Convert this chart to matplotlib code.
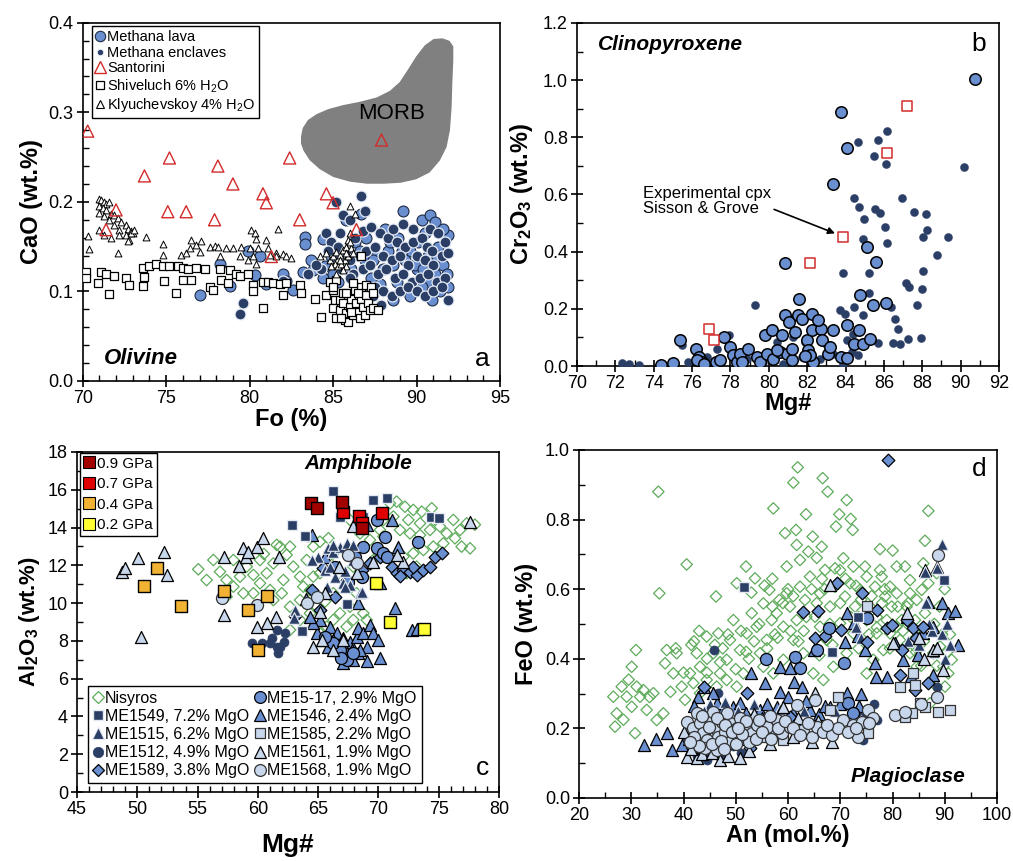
import matplotlib

matplotlib.use("Agg")

import matplotlib.pyplot as plt
from matplotlib.lines import Line2D
from matplotlib.patches import Polygon
from matplotlib.ticker import MultipleLocator

plt.rcParams["font.family"] = ["Liberation Sans", "DejaVu Sans"]
plt.rcParams["mathtext.fontset"] = "custom"
plt.rcParams["mathtext.rm"] = "Liberation Sans"
plt.rcParams["mathtext.it"] = "Liberation Sans:italic"
plt.rcParams["mathtext.bf"] = "Liberation Sans:bold"

LAVA = "#6A8FD0"
NAVY = "#2B3F66"
LIGHT = "#C8D7EC"
GREEN = "#5EAB5B"
RED_OPEN = "#D32B2B"
GP09 = "#A30000"
GP07 = "#E00000"
GP04 = "#F2B233"
GP02 = "#FFFF33"

# ---------------- (a) olivine: Fo (%) vs CaO (wt.%) ----------------
OL_LAVA = [
    (77.0, 0.096), (78.2, 0.131), (78.8, 0.106), (79.9, 0.145), (80.6, 0.140), (82.0, 0.120),
    (82.2, 0.112), (82.6, 0.102), (83.3, 0.161), (83.3, 0.153), (83.2, 0.122), (83.7, 0.135),
    (83.8, 0.124), (84.4, 0.158), (84.5, 0.128), (84.4, 0.115), (85.8, 0.180), (86.7, 0.187),
    (87.0, 0.160), (88.1, 0.170), (89.2, 0.190), (90.3, 0.180), (90.8, 0.185), (91.1, 0.178),
    (91.9, 0.163), (86.3, 0.155), (86.9, 0.135), (87.6, 0.140), (88.3, 0.145), (88.9, 0.160),
    (89.6, 0.145), (90.1, 0.155), (90.5, 0.165), (91.3, 0.150), (91.6, 0.130), (87.3, 0.115),
    (88.0, 0.125), (88.6, 0.130), (89.3, 0.135), (90.0, 0.125), (90.6, 0.110), (91.1, 0.120),
    (91.8, 0.120), (87.0, 0.100), (88.8, 0.110), (89.6, 0.095), (90.3, 0.105), (91.4, 0.100),
    (86.6, 0.145), (85.6, 0.130), (85.0, 0.120), (84.9, 0.140), (89.9, 0.130), (90.7, 0.140),
    (91.6, 0.170), (88.4, 0.155), (80.3, 0.118), (81.0, 0.108), (85.3, 0.110), (86.1, 0.125),
    (87.8, 0.108), (89.1, 0.145), (90.4, 0.125), (91.2, 0.140), (91.9, 0.105), (87.4, 0.135),
    (88.6, 0.090), (90.9, 0.090),
]
OL_ENCL = [
    (85.2, 0.200), (86.7, 0.207), (85.6, 0.185), (86.0, 0.180), (86.9, 0.190), (84.6, 0.165),
    (84.9, 0.155), (85.3, 0.150), (85.8, 0.145), (86.3, 0.160), (86.8, 0.168), (87.3, 0.172),
    (87.8, 0.165), (88.3, 0.160), (88.8, 0.155), (89.3, 0.150), (89.8, 0.155), (90.3, 0.160),
    (90.8, 0.170), (91.3, 0.165), (91.7, 0.155), (86.5, 0.140), (87.0, 0.145), (87.5, 0.150),
    (88.0, 0.140), (88.5, 0.135), (89.0, 0.140), (89.5, 0.130), (90.0, 0.140), (90.5, 0.135),
    (91.0, 0.130), (91.5, 0.140), (91.9, 0.143), (86.2, 0.120), (86.8, 0.125), (87.2, 0.130),
    (87.7, 0.120), (88.2, 0.125), (88.7, 0.115), (89.2, 0.120), (89.7, 0.110), (90.2, 0.115),
    (90.7, 0.120), (91.2, 0.110), (91.7, 0.115), (87.5, 0.105), (88.0, 0.100), (88.5, 0.095),
    (89.0, 0.100), (89.5, 0.105), (90.0, 0.100), (90.5, 0.095), (91.0, 0.100), (91.5, 0.105),
    (91.9, 0.090), (86.0, 0.115), (85.5, 0.125), (84.3, 0.125), (84.0, 0.130), (83.5, 0.120),
    (87.9, 0.085), (86.5, 0.100), (79.4, 0.075), (79.6, 0.087), (82.0, 0.112), (89.8, 0.170),
    (90.6, 0.150), (88.6, 0.170), (85.4, 0.165), (86.0, 0.135), (84.7, 0.145), (87.4, 0.095),
    (90.9, 0.145), (89.2, 0.175),
]
OL_SANTORINI = [
    (70.3, 0.279), (71.4, 0.169), (72.0, 0.191), (73.7, 0.229), (75.2, 0.249), (75.1, 0.189),
    (76.2, 0.189), (78.1, 0.240), (77.9, 0.180), (79.0, 0.220), (80.8, 0.209), (81.0, 0.199),
    (82.4, 0.249), (83.0, 0.180), (84.6, 0.209), (85.0, 0.199), (86.4, 0.169), (87.9, 0.269),
    (81.3, 0.139),
]
OL_SHIVELUCH = [
    (70.2, 0.122), (70.2, 0.115), (70.9, 0.109), (71.1, 0.122), (71.4, 0.119), (71.6, 0.097),
    (71.9, 0.117), (72.6, 0.115), (72.8, 0.107), (73.6, 0.126), (73.7, 0.116), (73.6, 0.106),
    (74.0, 0.128), (74.4, 0.131), (74.8, 0.128), (74.9, 0.112), (75.2, 0.128), (75.6, 0.098),
    (75.7, 0.128), (76.0, 0.126), (76.0, 0.113), (76.3, 0.125), (76.5, 0.113), (76.8, 0.126),
    (77.3, 0.125), (77.6, 0.105), (77.8, 0.102), (78.2, 0.125), (78.3, 0.113), (78.7, 0.109),
    (78.8, 0.124), (79.2, 0.119), (79.4, 0.117), (79.9, 0.120), (80.2, 0.107), (80.2, 0.100),
    (80.8, 0.081), (80.8, 0.110), (81.1, 0.111), (81.4, 0.109), (81.8, 0.108), (82.0, 0.096),
    (82.2, 0.109), (83.0, 0.107), (83.1, 0.098), (83.9, 0.092), (84.3, 0.071),
    (84.6, 0.096), (84.8, 0.111), (85.0, 0.102), (85.1, 0.090), (85.0, 0.081), (85.2, 0.070),
    (85.4, 0.090), (85.4, 0.079), (85.6, 0.098), (85.6, 0.087), (85.7, 0.068), (85.8, 0.076),
    (85.9, 0.066), (86.0, 0.083), (86.1, 0.092), (86.2, 0.074), (86.3, 0.102), (86.4, 0.087),
    (86.5, 0.077), (86.6, 0.070), (86.7, 0.105), (86.7, 0.092), (86.8, 0.083), (86.9, 0.074),
    (87.0, 0.107), (87.0, 0.096), (87.1, 0.087), (87.2, 0.079), (87.3, 0.105), (87.4, 0.081),
    (87.7, 0.079), (86.2, 0.109), (85.8, 0.098), (85.2, 0.113), (86.5, 0.098), (86.1, 0.077),
    (85.5, 0.070), (86.7, 0.139), (85.0, 0.105), (87.4, 0.098),
]
OL_KLYUCHEVSKOY = [
    (71.0, 0.203), (71.1, 0.202), (71.3, 0.200), (71.4, 0.198), (71.6, 0.200), (71.0, 0.195),
    (71.2, 0.193), (71.4, 0.191), (71.7, 0.187), (71.9, 0.185), (72.1, 0.182), (72.3, 0.178),
    (72.6, 0.174), (72.7, 0.170), (72.9, 0.168), (73.0, 0.165), (71.0, 0.188), (71.3, 0.184),
    (71.6, 0.180), (71.9, 0.174), (72.2, 0.169), (72.6, 0.163), (72.8, 0.157), (71.0, 0.169),
    (71.3, 0.163), (71.7, 0.160), (72.2, 0.163), (70.3, 0.162), (70.4, 0.147), (72.1, 0.143),
    (73.8, 0.161), (72.7, 0.156), (72.9, 0.165), (73.1, 0.169),
    (74.8, 0.153), (74.8, 0.141), (75.9, 0.141), (76.2, 0.143), (76.5, 0.157), (76.8, 0.152),
    (77.1, 0.156), (77.0, 0.144), (76.4, 0.148), (77.6, 0.150), (77.9, 0.151), (78.1, 0.150),
    (78.2, 0.140), (78.6, 0.149), (79.0, 0.149), (79.4, 0.139), (79.5, 0.150), (80.0, 0.149),
    (80.1, 0.169), (80.3, 0.165), (80.4, 0.158), (80.5, 0.148), (80.2, 0.139), (80.4, 0.131),
    (81.0, 0.157), (81.1, 0.148), (81.7, 0.170), (81.6, 0.143), (82.0, 0.142), (82.2, 0.140),
    (82.5, 0.137), (81.2, 0.141), (81.6, 0.139), (79.9, 0.135),
    (84.2, 0.139), (84.6, 0.143), (84.8, 0.135), (85.0, 0.139), (85.2, 0.144), (85.4, 0.141),
    (85.6, 0.146), (85.8, 0.150), (85.9, 0.157), (86.0, 0.165), (86.0, 0.195), (86.3, 0.187),
    (85.1, 0.131), (85.3, 0.128), (85.5, 0.131), (85.7, 0.135), (85.9, 0.139), (84.9, 0.128),
    (85.4, 0.135), (85.8, 0.128), (86.1, 0.148), (86.2, 0.143), (85.6, 0.124), (85.2, 0.120),
    (86.0, 0.155), (85.8, 0.143),
]
MORB_X = [83.14, 83.24, 83.54, 84.04, 84.74, 85.64, 86.64, 87.64, 88.44, 89.04, 89.54, 90.04,
          90.54, 91.04, 91.54, 91.94, 92.14, 92.14, 92.08, 92.04, 91.94, 91.74, 91.34, 90.74,
          89.94, 89.04, 88.04, 87.04, 86.04, 85.04, 84.24, 83.64, 83.28, 83.14]
MORB_Y = [0.2727, 0.2820, 0.2906, 0.2969, 0.3025, 0.3070, 0.3107, 0.3155, 0.3230, 0.3330,
          0.3472, 0.3620, 0.3740, 0.3807, 0.3814, 0.3788, 0.3732, 0.3583, 0.3323, 0.3062,
          0.2802, 0.2616, 0.2467, 0.2337, 0.2262, 0.2225, 0.2214, 0.2214, 0.2236, 0.2288,
          0.2374, 0.2474, 0.2579, 0.2653]

# ---------------- (b) clinopyroxene: Mg# vs Cr2O3 (wt.%) ----------------
CPX_LAVA = [
    (90.75, 1.004), (83.75, 0.888), (84.1, 0.762), (83.33, 0.636), (80.84, 0.359), (85.1, 0.417),
    (85.57, 0.365), (81.59, 0.233), (84.75, 0.250), (85.45, 0.213), (86.1, 0.219), (75.37, 0.090),
    (76.19, 0.061), (76.38, 0.032), (76.5, 0.014), (76.24, 0.020), (76.63, 0.008), (77.25, 0.014),
    (77.45, 0.020), (77.68, 0.102), (77.98, 0.067), (78.15, 0.037), (78.32, 0.014), (78.5, 0.043),
    (78.58, 0.014), (78.93, 0.061), (79.37, 0.032), (79.54, 0.014), (79.8, 0.108), (79.89, 0.043),
    (80.15, 0.125), (80.24, 0.026), (80.58, 0.049), (80.67, 0.108), (80.84, 0.178), (80.93, 0.043),
    (81.07, 0.154), (81.19, 0.020), (81.36, 0.119), (81.5, 0.178), (81.71, 0.166), (81.19, 0.061),
    (81.97, 0.090), (82.06, 0.055), (82.23, 0.125), (82.23, 0.183), (82.32, 0.014), (82.15, 0.037),
    (82.72, 0.131), (82.75, 0.090), (83.1, 0.043), (83.19, 0.067), (83.33, 0.125), (83.75, 0.032),
    (84.06, 0.143), (84.43, 0.078), (84.7, 0.127), (84.9, 0.078), (85.3, 0.096), (84.1, 0.029),
    (82.58, 0.160), (74.38, 0.002), (75.02, 0.012), (81.9, 0.035), (80.4, 0.055),
]
CPX_ENCL = [
    (72.33, 0.012), (72.73, 0.006), (73.25, 0.005), (79.28, 0.215), (84.67, 0.785), (86.14, 0.823),
    (85.67, 0.789), (85.48, 0.733), (86.1, 0.707), (84.44, 0.587), (84.72, 0.557), (84.96, 0.516),
    (85.53, 0.549), (85.8, 0.536), (86.06, 0.487), (86.15, 0.431), (86.93, 0.587), (87.57, 0.538),
    (88.2, 0.532), (88.26, 0.476), (88.05, 0.452), (89.36, 0.450), (90.15, 0.695), (84.93, 0.445),
    (83.88, 0.327), (85.22, 0.327), (88.78, 0.388), (88.05, 0.333), (87.15, 0.291), (87.33, 0.277),
    (87.97, 0.271), (87.71, 0.213), (86.36, 0.207), (86.59, 0.166), (86.73, 0.131), (86.49, 0.082),
    (86.83, 0.076), (87.27, 0.093), (87.91, 0.099), (85.71, 0.082), (85.24, 0.254), (84.44, 0.207),
    (83.97, 0.183), (83.71, 0.197), (84.06, 0.090), (84.2, 0.148), (84.67, 0.037), (83.88, 0.008),
    (84.54, 0.078), (84.93, 0.178), (84.41, 0.113), (84.32, 0.049), (75.46, 0.072), (75.8, 0.014),
    (76.76, 0.032), (77.28, 0.061), (77.94, 0.108), (78.84, 0.026), (79.71, 0.014), (80.41, 0.084),
    (80.76, 0.008), (81.28, 0.102), (81.71, 0.032), (82.4, 0.014), (82.67, 0.026), (83.36, 0.043),
    (83.0, 0.078), (81.88, 0.084),
]
CPX_EXP = [(76.9, 0.131), (77.12, 0.090), (82.15, 0.361), (83.88, 0.450), (86.14, 0.744), (87.18, 0.911)]

# ---------------- (c) amphibole: Mg# vs Al2O3 (wt.%) ----------------
AM_NISYROS = [
    (55.06, 11.79), (55.75, 11.22), (56.86, 11.66), (57.41, 11.22), (57.97, 10.87), (58.52, 11.40),
    (59.07, 11.93), (59.63, 11.49), (60.18, 11.05), (60.73, 11.58), (61.29, 12.10), (61.84, 12.99),
    (62.39, 12.55), (62.94, 11.93), (63.50, 11.40), (64.05, 12.28), (64.60, 12.99), (65.15, 13.25),
    (65.85, 13.43), (66.26, 12.63), (62.67, 12.99), (61.56, 13.08), (62.12, 11.22), (61.29, 10.16),
    (61.98, 10.52), (62.67, 9.81), (63.50, 10.16), (64.32, 10.69), (57.97, 12.28), (58.80, 10.52),
    (59.63, 10.52), (57.41, 10.34), (56.31, 12.28), (67.64, 14.40), (68.47, 13.69), (69.30, 13.34),
    (70.13, 13.87), (70.96, 15.28), (71.51, 15.37), (72.20, 15.10), (72.89, 14.93), (73.59, 14.84),
    (74.42, 15.02), (74.55, 14.40), (73.45, 14.22), (72.48, 14.40), (71.79, 13.87), (72.62, 13.69),
    (73.45, 13.60), (74.28, 13.87), (75.11, 14.05), (75.66, 13.69), (76.21, 14.40), (76.77, 13.87),
    (77.32, 14.22), (76.35, 13.43), (76.90, 12.99), (75.38, 13.16), (74.55, 12.99), (73.73, 12.81),
    (72.89, 12.63), (72.07, 12.46), (73.17, 11.93), (72.34, 11.58), (70.41, 14.40), (69.58, 12.28),
    (68.75, 11.40), (68.19, 10.52), (67.64, 9.81), (66.81, 9.46), (66.26, 9.11), (65.71, 8.75),
    (65.15, 8.40), (67.91, 9.11), (68.75, 9.46), (69.03, 9.11), (67.36, 8.75), (62.67, 8.58),
    (63.50, 9.11), (64.32, 9.46), (64.88, 9.81), (65.57, 10.08), (66.26, 10.52), (67.09, 11.22),
    (67.91, 11.93), (65.15, 11.58), (65.98, 12.10), (64.60, 11.40), (63.77, 10.87), (60.18, 12.28),
    (61.01, 10.69), (71.24, 14.58), (70.41, 13.52), (78.0, 14.15), (77.6, 12.9), (60.5, 12.6),
]
AM_ME1549 = [
    (66.2, 15.95), (66.8, 14.58), (69.52, 15.46), (70.74, 15.55), (62.8, 14.13), (63.91, 13.55),
    (67.37, 9.93), (63.69, 8.52), (74.33, 14.58), (75.05, 14.50), (68.69, 14.58),
]
AM_ME1515 = [
    (65.02, 12.42), (65.85, 12.90), (66.26, 12.72), (66.81, 12.99), (65.57, 11.75), (66.4, 11.40),
    (67.09, 11.05), (67.64, 10.96), (67.23, 10.87), (68.47, 10.52), (65.71, 10.87), (67.91, 12.28),
    (67.36, 13.16), (67.91, 13.08), (68.6, 10.60), (63.08, 9.63), (66.26, 13.08), (67.2, 11.70),
    (64.5, 12.3), (66.0, 11.9), (63.0, 9.2),
]
AM_ME1512 = [
    (61.56, 8.58), (62.25, 8.40), (59.49, 7.90), (60.32, 7.87), (61.15, 8.13), (61.56, 7.70),
    (61.70, 7.34), (62.18, 7.94), (61.0, 7.87), (61.84, 7.69),
]
AM_ME1589 = [
    (63.08, 9.34), (71.1, 11.93), (71.51, 11.58), (72.07, 11.75), (72.62, 11.66), (73.17, 11.49),
    (73.73, 11.75), (74.28, 11.93), (74.7, 12.46), (75.25, 12.67), (72.89, 11.93), (64.46, 10.69),
    (65.16, 9.63), (66.4, 10.34), (67.37, 11.22), (68.61, 11.75), (69.3, 12.10), (65.43, 11.84),
    (70.14, 12.46), (71.8, 11.45),
]
AM_ME1517 = [
    (69.85, 14.40), (70.54, 13.52), (73.31, 13.25), (68.75, 12.99), (69.85, 12.90), (70.41, 12.63),
    (67.37, 12.81), (68.06, 12.46), (66.4, 11.93), (67.5, 11.14), (68.6, 11.40), (70.69, 12.46),
    (67.37, 6.99), (66.81, 7.52), (66.26, 7.87), (67.91, 7.34), (65.57, 8.22), (66.9, 7.10),
]
AM_ME1546 = [
    (64.46, 13.60), (71.1, 14.40), (69.02, 14.13), (68.33, 9.99), (70.13, 11.05), (71.38, 9.76),
    (72.76, 8.58), (73.24, 8.61), (71.65, 12.99), (65.16, 9.11), (65.98, 8.75), (66.54, 8.40),
    (66.26, 8.05), (67.09, 8.13), (67.64, 7.96), (68.19, 8.22), (68.33, 8.66), (68.75, 8.40),
    (69.02, 7.69), (69.3, 8.84), (69.58, 8.40), (69.99, 8.05), (70.13, 7.08), (69.02, 6.95),
    (68.33, 7.34), (67.37, 7.34), (66.67, 7.52), (65.85, 7.69), (65.43, 8.05), (64.88, 8.40),
    (64.6, 8.93), (64.32, 9.29), (68.47, 7.52), (67.78, 7.52), (67.91, 6.99), (67.09, 6.81),
    (65.57, 12.46), (64.0, 10.2),
]
AM_ME1561 = [
    (48.7, 11.66), (48.98, 11.84), (50.03, 12.37), (50.3, 8.22), (52.22, 12.72), (52.44, 11.49),
    (57.19, 12.42), (57.19, 9.37), (58.46, 11.96), (58.8, 12.90), (59.02, 12.46), (59.21, 12.72),
    (59.9, 12.99), (60.39, 13.43), (61.78, 12.46), (59.9, 8.75), (60.73, 8.96), (61.5, 9.29),
    (64.6, 7.69), (67.91, 14.08), (68.19, 11.58), (66.76, 11.93), (69.58, 12.19), (72.07, 12.19),
    (71.51, 12.55), (77.6, 14.31), (65.57, 10.52), (65.16, 9.55), (65.29, 8.05), (66.26, 7.52),
    (67.09, 8.05),
]
AM_ME1568 = [(57.0, 10.25), (59.9, 9.92), (64.05, 9.99), (64.87, 10.34), (68.19, 12.10), (67.5, 12.55)]
AM_P09 = [(64.4, 15.30), (64.9, 15.05), (67.0, 15.35), (68.6, 13.95)]
AM_P07 = [(67.1, 14.80), (68.4, 14.60), (70.3, 14.75), (68.6, 14.25)]
AM_P04 = [(51.6, 11.84), (50.58, 10.92), (53.6, 9.83), (59.2, 9.63), (60.73, 10.39), (60.04, 7.52), (57.2, 10.65)]
AM_P02 = [(69.8, 11.05), (70.96, 9.02), (73.8, 8.62)]

# ---------------- (d) plagioclase: An (mol.%) vs FeO (wt.%) ----------------
PL_NISYROS = [
    (35.18, 0.880), (35.37, 0.588), (40.6, 0.671), (30.9, 0.425), (61.85, 0.950), (61.02, 0.906),
    (66.64, 0.919), (67.59, 0.880), (71.23, 0.856), (72.0, 0.802), (72.38, 0.770), (69.82, 0.815),
    (69.19, 0.780), (63.45, 0.815), (57.19, 0.832), (86.86, 0.825), (86.22, 0.739), (61.53, 0.770),
    (59.43, 0.761), (64.72, 0.751), (66.45, 0.722), (61.66, 0.727), (63.89, 0.708), (77.6, 0.715),
    (80.03, 0.711), (80.8, 0.665), (51.96, 0.665), (53.68, 0.631), (46.22, 0.579), (50.19, 0.617),
    (56.43, 0.598), (58.34, 0.569), (59.75, 0.665), (62.3, 0.684), (70.59, 0.689), (72.51, 0.665),
    (75.06, 0.636), (77.93, 0.636), (79.53, 0.607), (83.35, 0.626), (85.59, 0.598), (86.86, 0.617),
    (88.46, 0.646), (26.89, 0.205), (27.21, 0.243), (26.57, 0.291), (28.17, 0.320), (29.12, 0.291),
    (30.08, 0.262), (30.72, 0.186), (31.04, 0.320), (31.68, 0.291), (32.32, 0.310), (30.08, 0.377),
    (32.95, 0.253), (34.23, 0.301), (36.14, 0.243), (34.87, 0.224), (36.78, 0.425), (36.46, 0.387),
    (38.05, 0.358), (38.69, 0.416), (39.65, 0.320), (40.29, 0.282), (41.24, 0.358), (42.52, 0.416),
    (43.16, 0.377), (44.43, 0.464), (45.71, 0.416), (46.67, 0.473), (46.99, 0.358), (48.26, 0.397),
    (48.9, 0.454), (49.54, 0.511), (50.81, 0.425), (52.09, 0.473), (53.05, 0.531), (54.0, 0.492),
    (54.64, 0.416), (55.28, 0.559), (55.92, 0.454), (56.87, 0.511), (57.83, 0.531), (59.11, 0.492),
    (59.75, 0.588), (60.38, 0.550), (61.66, 0.511), (62.3, 0.607), (63.25, 0.569), (64.21, 0.636),
    (65.17, 0.521), (66.13, 0.588), (67.08, 0.655), (68.04, 0.550), (69.0, 0.607), (69.95, 0.655),
    (70.91, 0.579), (71.87, 0.617), (72.83, 0.550), (73.78, 0.598), (74.74, 0.665), (75.7, 0.550),
    (76.65, 0.607), (77.61, 0.655), (78.57, 0.579), (79.84, 0.550), (80.8, 0.588), (81.76, 0.511),
    (82.71, 0.550), (84.31, 0.511), (85.27, 0.464), (86.22, 0.531), (87.18, 0.492), (87.82, 0.416),
    (89.09, 0.435), (89.73, 0.377), (90.69, 0.358), (91.33, 0.397), (90.05, 0.320), (88.46, 0.320),
    (87.18, 0.272), (84.63, 0.377), (83.35, 0.416), (81.44, 0.454), (79.53, 0.473), (78.25, 0.425),
    (76.33, 0.397), (75.06, 0.358), (71.23, 0.416), (68.68, 0.377), (66.76, 0.339), (64.85, 0.358),
    (62.94, 0.416), (61.02, 0.454), (59.11, 0.397), (57.19, 0.358), (55.28, 0.377), (51.45, 0.358),
    (50.18, 0.320), (48.26, 0.339), (46.35, 0.320), (44.43, 0.339), (43.16, 0.301), (41.88, 0.330),
    (80.8, 0.492), (78.89, 0.511), (76.97, 0.473), (75.06, 0.511), (72.51, 0.473), (69.95, 0.502),
    (67.4, 0.454), (66.13, 0.492), (84.0, 0.454), (84.63, 0.569), (85.9, 0.674), (82.4, 0.665),
    (83.35, 0.588), (28.5, 0.225), (33.5, 0.290), (37.5, 0.305), (42.0, 0.450), (47.5, 0.430),
    (52.5, 0.400), (57.5, 0.470), (63.0, 0.480), (67.0, 0.600), (73.5, 0.520), (78.0, 0.560),
    (89.5, 0.470), (90.5, 0.420), (65.5, 0.690), (53.0, 0.590), (44.5, 0.400), (29.5, 0.340),
    (38.5, 0.430), (40.0, 0.360), (41.5, 0.440), (43.0, 0.480), (44.5, 0.360), (46.0, 0.440),
    (47.0, 0.390), (48.5, 0.470), (50.0, 0.370), (51.0, 0.480), (52.0, 0.420), (53.5, 0.450),
    (54.5, 0.500), (56.0, 0.430), (57.0, 0.550), (58.0, 0.460), (59.0, 0.560), (60.5, 0.480),
    (61.0, 0.580), (62.0, 0.450), (63.5, 0.520), (64.5, 0.600), (65.5, 0.560), (66.5, 0.630),
    (68.0, 0.500), (69.0, 0.660), (70.0, 0.560), (71.0, 0.630), (72.0, 0.520), (73.0, 0.610),
    (74.0, 0.570), (75.5, 0.470), (76.0, 0.580), (77.0, 0.520), (78.5, 0.600), (79.5, 0.430),
    (81.0, 0.550), (82.0, 0.480), (83.0, 0.560), (84.5, 0.420), (86.0, 0.450), (88.0, 0.500),
    (89.0, 0.550), (91.0, 0.470), (90.0, 0.600), (57.0, 0.630), (60.0, 0.600), (55.5, 0.610),
    (66.0, 0.410), (68.5, 0.440), (73.5, 0.430), (77.0, 0.490), (85.5, 0.380), (88.5, 0.380),
]
PL_ME1568 = [
    (40.6, 0.219), (41.88, 0.200), (43.16, 0.215), (43.8, 0.186), (44.43, 0.167), (45.07, 0.224),
    (46.03, 0.200), (46.67, 0.176), (47.3, 0.219), (47.94, 0.191), (48.9, 0.215), (49.54, 0.181),
    (50.18, 0.200), (50.81, 0.229), (51.77, 0.205), (53.05, 0.186), (54.0, 0.210), (55.92, 0.205),
    (57.83, 0.224), (58.79, 0.186), (60.38, 0.205), (61.66, 0.267), (62.94, 0.195), (64.53, 0.176),
    (65.49, 0.205), (66.76, 0.191), (68.36, 0.181), (65.17, 0.282), (70.59, 0.224), (72.51, 0.210),
    (73.46, 0.176), (74.1, 0.219), (75.38, 0.253), (76.33, 0.229), (80.48, 0.239), (82.4, 0.248),
    (88.46, 0.291), (88.78, 0.698), (44.11, 0.143), (46.35, 0.138), (48.9, 0.162), (42.52, 0.243),
    (45.71, 0.248), (48.26, 0.243), (52.5, 0.160), (56.5, 0.235), (69.5, 0.200), (85.5, 0.270),
    (42.0, 0.175), (43.5, 0.235), (44.8, 0.205), (45.5, 0.155), (46.5, 0.230), (47.2, 0.165),
    (48.0, 0.210), (49.2, 0.190), (50.0, 0.155), (51.2, 0.185), (52.0, 0.220), (53.8, 0.170),
    (55.0, 0.190), (56.8, 0.170), (58.0, 0.200), (59.5, 0.220), (61.0, 0.200), (63.8, 0.215),
    (67.5, 0.210), (71.5, 0.190), (73.0, 0.200), (75.5, 0.215), (43.0, 0.150), (41.2, 0.160),
    (47.8, 0.140), (50.5, 0.200), (54.5, 0.225), (62.2, 0.180),
]
PL_ME1546 = [
    (32.44, 0.152), (34.67, 0.169), (36.78, 0.186), (37.86, 0.138), (39.65, 0.152), (42.84, 0.291),
    (43.99, 0.320), (46.35, 0.272), (49.54, 0.262), (52.85, 0.358), (55.6, 0.330), (58.47, 0.377),
    (60.38, 0.373), (61.21, 0.334), (62.62, 0.320), (58.47, 0.305), (65.04, 0.425), (70.91, 0.449),
    (71.23, 0.531), (73.46, 0.464), (74.74, 0.425), (76.65, 0.387), (76.84, 0.349), (78.89, 0.349),
    (72.7, 0.502), (80.48, 0.444), (82.08, 0.397), (82.71, 0.521), (84.95, 0.411), (86.22, 0.655),
    (86.86, 0.564), (87.82, 0.353), (88.46, 0.665), (89.41, 0.559), (90.69, 0.531), (91.97, 0.536),
    (92.61, 0.440), (85.9, 0.473), (87.82, 0.492), (71.23, 0.301), (68.04, 0.262), (64.21, 0.253),
    (61.02, 0.243), (57.83, 0.262), (54.64, 0.253), (50.81, 0.272), (45.71, 0.301), (41.0, 0.170),
    (44.0, 0.230), (47.0, 0.205), (53.0, 0.225), (66.0, 0.240), (74.0, 0.300), (83.5, 0.350),
    (42.0, 0.265), (47.5, 0.255), (52.0, 0.245), (56.0, 0.270), (60.0, 0.290), (63.5, 0.280),
    (67.0, 0.265), (70.0, 0.270), (73.5, 0.265), (43.0, 0.200), (49.0, 0.230), (55.0, 0.230),
    (44.5, 0.180), (51.5, 0.170),
]
PL_ME1515 = [
    (89.4, 0.730), (88.5, 0.660), (86.3, 0.650), (91.0, 0.440), (87.5, 0.480), (89.5, 0.470),
    (73.0, 0.490), (75.5, 0.530), (74.0, 0.460), (86.5, 0.560), (90.0, 0.400), (45.0, 0.270),
    (50.5, 0.250), (88.0, 0.420), (85.0, 0.440), (42.5, 0.220), (44.0, 0.250), (48.0, 0.275),
    (53.5, 0.270), (58.5, 0.255), (63.0, 0.250), (69.0, 0.250), (83.0, 0.450), (87.0, 0.500),
    (90.5, 0.500),
]
PL_ME1589 = [
    (79.08, 0.971), (69.31, 0.617), (74.1, 0.588), (62.81, 0.533), (65.81, 0.538), (65.17, 0.459),
    (67.08, 0.464), (70.08, 0.483), (75.06, 0.449), (76.97, 0.540), (78.89, 0.488), (79.84, 0.497),
    (82.71, 0.511), (83.98, 0.488), (85.9, 0.492), (81.44, 0.353), (84.31, 0.310), (86.86, 0.330),
    (43.93, 0.320), (52.09, 0.301), (60.38, 0.234), (52.73, 0.143), (81.76, 0.425), (84.5, 0.460),
]
PL_ME1517 = [
    (67.91, 0.488), (70.78, 0.387), (61.34, 0.404), (62.3, 0.373), (55.73, 0.398), (65.49, 0.425),
    (75.06, 0.516), (71.55, 0.272), (72.51, 0.243),
]
PL_ME1512 = [
    (45.9, 0.425), (46.67, 0.301), (44.43, 0.109), (46.99, 0.119), (73.14, 0.248), (76.97, 0.224),
    (74.42, 0.167), (49.54, 0.148), (40.6, 0.176), (88.46, 0.320), (42.5, 0.120), (45.0, 0.130),
    (48.0, 0.125), (51.0, 0.130), (76.5, 0.270), (75.0, 0.240),
]
PL_ME1549 = [(51.64, 0.607), (68.49, 0.420), (73.46, 0.521), (89.92, 0.626)]
PL_ME1585 = [
    (69.63, 0.291), (75.06, 0.552), (75.38, 0.186), (81.44, 0.320), (83.99, 0.358), (84.31, 0.325),
    (85.27, 0.272), (86.22, 0.262), (83.67, 0.243), (82.4, 0.234), (91.0, 0.253), (88.78, 0.248),
    (59.11, 0.167), (55.6, 0.176), (68.04, 0.253),
]
PL_ME1561 = [
    (68.04, 0.612), (40.1, 0.191), (40.6, 0.119), (42.52, 0.114), (46.99, 0.109), (50.81, 0.114),
    (64.53, 0.162), (80.16, 0.444), (82.71, 0.531), (87.82, 0.425), (89.73, 0.368), (65.17, 0.301),
    (45.71, 0.186), (57.0, 0.200), (62.0, 0.230), (41.5, 0.140), (43.5, 0.125), (45.5, 0.130),
    (48.5, 0.120), (52.5, 0.135), (56.5, 0.155), (61.0, 0.175), (65.8, 0.220), (68.5, 0.160),
    (53.5, 0.240), (59.0, 0.260), (85.0, 0.460), (86.0, 0.400), (88.5, 0.430),
]

# sample symbol styles shared by panels c and d
STYLE = {
    "Nisyros": dict(marker="D", fc="none", ec=GREEN, s=34, lw=0.9),
    "ME1549": dict(marker="s", fc=NAVY, ec="#E4E9F2", s=60, lw=1.0),
    "ME1515": dict(marker="^", fc=NAVY, ec="#E4E9F2", s=70, lw=0.8),
    "ME1512": dict(marker="o", fc=NAVY, ec=NAVY, s=42, lw=0.5),
    "ME1589": dict(marker="D", fc=LAVA, ec="black", s=42, lw=0.9),
    "ME15-17": dict(marker="o", fc=LAVA, ec="black", s=75, lw=0.9),
    "ME1546": dict(marker="^", fc=LAVA, ec="black", s=75, lw=0.9),
    "ME1585": dict(marker="s", fc=LIGHT, ec="#333333", s=45, lw=0.9),
    "ME1561": dict(marker="^", fc=LIGHT, ec="black", s=75, lw=0.9),
    "ME1568": dict(marker="o", fc=LIGHT, ec="#333333", s=75, lw=0.9),
}


def xy(points):
    return [p[0] for p in points], [p[1] for p in points]


def plot_set(ax, points, name, z=3):
    st = STYLE[name]
    xs, ys = xy(points)
    ax.scatter(xs, ys, marker=st["marker"], s=st["s"], facecolors=st["fc"],
               edgecolors=st["ec"], linewidths=st["lw"], zorder=z)


def style_axes(ax, xmaj, xmin, ymaj, ymin):
    ax.xaxis.set_major_locator(MultipleLocator(xmaj))
    ax.xaxis.set_minor_locator(MultipleLocator(xmin))
    ax.yaxis.set_major_locator(MultipleLocator(ymaj))
    ax.yaxis.set_minor_locator(MultipleLocator(ymin))
    ax.tick_params(which="major", direction="inout", length=9, width=1.2, labelsize=13,
                   top=False, right=False, pad=2)
    ax.tick_params(which="minor", direction="in", length=4, width=1.0, top=False, right=False)
    for sp in ax.spines.values():
        sp.set_linewidth(1.2)


fig = plt.figure(figsize=(10.13, 8.61), dpi=100, facecolor="white")

# ---- panel a ----
ax = fig.add_axes([0.0816, 0.5575, 0.412, 0.4161])
ax.add_patch(Polygon(list(zip(MORB_X, MORB_Y)), closed=True, fc="#808080", ec="#808080",
                     lw=1.5, joinstyle="round", zorder=1))
ax.text(88.5, 0.299, "MORB", fontsize=16, ha="center", va="center", zorder=2)
xs, ys = xy(OL_LAVA)
ax.scatter(xs, ys, s=62, facecolors=LAVA, edgecolors="#1E2B45", linewidths=0.8, zorder=3)
xs, ys = xy(OL_ENCL)
ax.scatter(xs, ys, s=62, facecolors=NAVY, edgecolors="#E6ECF5", linewidths=0.9, zorder=3)
xs, ys = xy(OL_SHIVELUCH)
ax.scatter(xs, ys, marker="s", s=26, facecolors="white", edgecolors="black", linewidths=0.9, zorder=4)
xs, ys = xy(OL_KLYUCHEVSKOY)
ax.scatter(xs, ys, marker="^", s=24, facecolors="white", edgecolors="black", linewidths=0.7, zorder=4)
xs, ys = xy(OL_SANTORINI)
ax.scatter(xs, ys, marker="^", s=75, facecolors="none", edgecolors=RED_OPEN, linewidths=1.0, zorder=5)
ax.set_xlim(70, 95)
ax.set_ylim(0, 0.4)
style_axes(ax, 5, 1, 0.1, 0.02)
ax.set_xlabel("Fo (%)", fontsize=17, fontweight="bold", labelpad=1)
ax.set_ylabel("CaO (wt.%)", fontsize=17, fontweight="bold", labelpad=4)
ax.text(71.3, 0.025, "Olivine", fontsize=16, fontweight="bold", style="italic", va="center")
ax.text(94.4, 0.025, "a", fontsize=19, ha="right", va="center")
handles = [
    Line2D([], [], ls="none", marker="o", ms=7.5, mfc=LAVA, mec="#1E2B45", mew=0.8),
    Line2D([], [], ls="none", marker="o", ms=4.5, mfc=NAVY, mec="#E6ECF5", mew=0.6),
    Line2D([], [], ls="none", marker="^", ms=8, mfc="none", mec=RED_OPEN, mew=1.0),
    Line2D([], [], ls="none", marker="s", ms=5.5, mfc="white", mec="black", mew=0.9),
    Line2D([], [], ls="none", marker="^", ms=5.5, mfc="white", mec="black", mew=0.8),
]
labels = ["Methana lava", "Methana enclaves", "Santorini", "Shiveluch 6% H$_2$O",
          "Klyuchevskoy 4% H$_2$O"]
leg = ax.legend(handles, labels, loc="upper left", bbox_to_anchor=(0.022, 0.99), fontsize=10.5,
                handlelength=0.6, handletextpad=0.2, labelspacing=0.12, borderpad=0.25,
                borderaxespad=0, fancybox=False, framealpha=1, edgecolor="black")
leg.get_frame().set_linewidth(1.0)

# ---- panel b ----
ax = fig.add_axes([0.5696, 0.5749, 0.4166, 0.3984])
xs, ys = xy(CPX_ENCL)
ax.scatter(xs, ys, s=34, facecolors=NAVY, edgecolors=NAVY, linewidths=0.3, zorder=3)
xs, ys = xy(CPX_LAVA)
ax.scatter(xs, ys, s=68, facecolors=LAVA, edgecolors="black", linewidths=1.1, zorder=3)
xs, ys = xy(CPX_EXP)
ax.scatter(xs, ys, marker="s", s=60, facecolors="white", edgecolors=RED_OPEN, linewidths=1.1, zorder=4)
ax.set_xlim(70, 92)
ax.set_ylim(0, 1.2)
style_axes(ax, 2, 1, 0.2, 0.1)
ax.set_xlabel("Mg#", fontsize=17, fontweight="bold", labelpad=0)
ax.set_ylabel(r"Cr$_\mathbf{2}$O$_\mathbf{3}$ (wt.%)", fontsize=17, fontweight="bold", labelpad=6)
ax.text(71.1, 1.125, "Clinopyroxene", fontsize=15, fontweight="bold", style="italic", va="center")
ax.text(91.3, 1.125, "b", fontsize=19, ha="right", va="center")
ax.annotate("Experimental cpx\nSisson & Grove", xy=(83.45, 0.464), xytext=(73.45, 0.578),
            fontsize=12, va="center", ha="left", linespacing=1.0,
            arrowprops=dict(arrowstyle="-|>", color="black", lw=1.2, mutation_scale=10,
                            shrinkA=0, shrinkB=0, relpos=(1.0, 0.25)))

# ---- panel c ----
ax = fig.add_axes([0.076, 0.0801, 0.4166, 0.395])
plot_set(ax, AM_NISYROS, "Nisyros", z=2)
plot_set(ax, AM_ME1512, "ME1512")
plot_set(ax, AM_ME1546, "ME1546")
plot_set(ax, AM_ME1589, "ME1589")
plot_set(ax, AM_ME1517, "ME15-17")
plot_set(ax, AM_ME1515, "ME1515")
plot_set(ax, AM_ME1561, "ME1561")
plot_set(ax, AM_ME1568, "ME1568")
plot_set(ax, AM_ME1549, "ME1549")
for pts, col in [(AM_P04, GP04), (AM_P02, GP02), (AM_P07, GP07), (AM_P09, GP09)]:
    xs, ys = xy(pts)
    ax.scatter(xs, ys, marker="s", s=85, facecolors=col, edgecolors="black", linewidths=1.0, zorder=5)
ax.set_xlim(45, 80)
ax.set_ylim(0, 18)
style_axes(ax, 5, 1, 2, 1)
ax.set_xlabel("Mg#", fontsize=19, fontweight="bold", labelpad=11)
ax.set_ylabel(r"Al$_\mathbf{2}$O$_\mathbf{3}$ (wt.%)", fontsize=16, fontweight="bold", labelpad=4)
ax.text(68.3, 17.4, "Amphibole", fontsize=15, fontweight="bold", style="italic", ha="center", va="center")
ax.text(79.2, 1.25, "c", fontsize=19, ha="right", va="center")
p_handles = [Line2D([], [], ls="none", marker="s", ms=9, mfc=c, mec="black", mew=0.8)
             for c in (GP09, GP07, GP04, GP02)]
leg1 = ax.legend(p_handles, ["0.9 GPa", "0.7 GPa", "0.4 GPa", "0.2 GPa"], loc="upper left",
                 bbox_to_anchor=(0.0075, 0.997), fontsize=11, handlelength=0.6, handletextpad=0.25,
                 labelspacing=0.42, borderpad=0.25, borderaxespad=0, fancybox=False,
                 framealpha=1, edgecolor="black")
leg1.get_frame().set_linewidth(1.0)
ax.add_artist(leg1)
names = ["Nisyros", "ME1549", "ME1515", "ME1512", "ME1589",
         "ME15-17", "ME1546", "ME1585", "ME1561", "ME1568"]
texts = ["Nisyros", "ME1549, 7.2% MgO", "ME1515, 6.2% MgO", "ME1512, 4.9% MgO", "ME1589, 3.8% MgO",
         "ME15-17, 2.9% MgO", "ME1546, 2.4% MgO", "ME1585, 2.2% MgO", "ME1561, 1.9% MgO",
         "ME1568, 1.9% MgO"]
s_handles = []
for n in names:
    st = STYLE[n]
    ms = {"D": 6.5, "s": 7, "^": 8.5, "o": 8.5}[st["marker"]]
    if n == "ME1512":
        ms = 7.5
    s_handles.append(Line2D([], [], ls="none", marker=st["marker"], ms=ms, mfc=st["fc"],
                            mec=st["ec"], mew=st["lw"]))
leg2 = ax.legend(s_handles, texts, loc="lower left", bbox_to_anchor=(0.026, 0.026), ncol=2,
                 fontsize=11.5, handlelength=0.6, handletextpad=0.15, labelspacing=0.2,
                 columnspacing=0.4, borderpad=0.3, borderaxespad=0, fancybox=False,
                 framealpha=1, edgecolor="black")
leg2.get_frame().set_linewidth(1.0)

# ---- panel d ----
ax = fig.add_axes([0.5716, 0.0732, 0.4126, 0.4042])
plot_set(ax, PL_NISYROS, "Nisyros", z=2)
plot_set(ax, PL_ME1512, "ME1512")
plot_set(ax, PL_ME1546, "ME1546")
plot_set(ax, PL_ME1515, "ME1515")
plot_set(ax, PL_ME1589, "ME1589")
plot_set(ax, PL_ME1517, "ME15-17")
plot_set(ax, PL_ME1585, "ME1585")
plot_set(ax, PL_ME1561, "ME1561")
plot_set(ax, PL_ME1568, "ME1568")
plot_set(ax, PL_ME1549, "ME1549")
ax.set_xlim(20, 100)
ax.set_ylim(0, 1.0)
style_axes(ax, 10, 5, 0.2, 0.1)
ax.set_xlabel("An (mol.%)", fontsize=17, fontweight="bold", labelpad=0)
ax.set_ylabel("FeO (wt.%)", fontsize=17, fontweight="bold", labelpad=5)
ax.text(83.0, 0.063, "Plagioclase", fontsize=15, fontweight="bold", style="italic", ha="center", va="center")
ax.text(98.0, 0.945, "d", fontsize=19, ha="right", va="center")

fig.savefig("out.png", dpi=100, facecolor="white")
